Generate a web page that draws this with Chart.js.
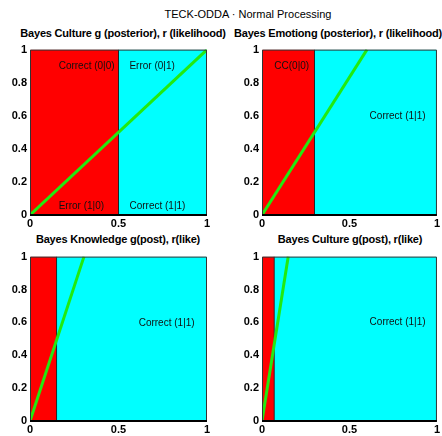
<!DOCTYPE html>
<html><head><meta charset="utf-8">
<script src="https://cdn.jsdelivr.net/npm/chart.js@4"></script>
<style>
html,body{margin:0;padding:0;background:#fff;width:442px;height:436px;overflow:hidden;font-family:"Liberation Sans",Arial,sans-serif;}
.t{position:absolute;white-space:nowrap;color:#000;transform:translate(-50%,-50%);}
.main{font-size:11px;}
.sub{font-size:11px;font-weight:bold;letter-spacing:-0.2px;}
canvas{position:absolute;}
</style></head><body>
<div class="t main" style="left:248px;top:14px">TECK-ODDA · Normal Processing</div>
<div id="t0" class="t sub" style="left:123px;top:33px"></div>
<div id="t1" class="t sub" style="left:338px;top:33px"></div>
<div id="t2" class="t sub" style="left:118px;top:239px"></div>
<div id="t3" class="t sub" style="left:350px;top:239px"></div>
<canvas id="c0" style="left:0;top:40px"></canvas>
<canvas id="c1" style="left:232px;top:40px"></canvas>
<canvas id="c2" style="left:0;top:247px"></canvas>
<canvas id="c3" style="left:232px;top:247px"></canvas>
<script>
const panelTitles = [
  "Bayes Culture g (posterior), r (likelihood)",
  "Bayes Emotiong (posterior), r (likelihood)",
  "Bayes Knowledge g(post), r(like)",
  "Bayes Culture g(post), r(like)"
];
const redEdge = [0.5, 0.3, 0.15, 0.07];
const lineEndX = [1, 0.6, 0.305, 0.15];
const xTicks = [0, 0.5, 1];
const yTicks = [0, 0.2, 0.4, 0.6, 0.8, 1];
const cellText = [
  ["Correct (0|0)", "Error (0|1)", "Error (1|0)", "Correct (1|1)"],
  ["CC(0|0)", "Correct (1|1)"],
  ["Correct (1|1)"],
  ["Correct (1|1)"]
];
const cellX = [[0.32, 0.69, 0.29, 0.72], [0.17, 0.775], [0.772], [0.775]];
const cellY = [[0.9, 0.9, 0.053, 0.053], [0.9, 0.6], [0.595], [0.6]];

const sizes = [[215,189],[210,189],[215,188],[210,188]];

const textPlugin = {
  id: 'cellText',
  afterDatasetsDraw(chart, args, opts) {
    const i = opts.idx, ctx = chart.ctx, xs = chart.scales.x, ys = chart.scales.y;
    ctx.save();
    ctx.font = '10px "Liberation Sans", Arial, sans-serif';
    ctx.fillStyle = '#111';
    ctx.textAlign = 'center'; ctx.textBaseline = 'middle';
    cellText[i].forEach((s, k) => {
      ctx.fillText(s, xs.getPixelForValue(cellX[i][k]), ys.getPixelForValue(cellY[i][k]));
    });
    const a = chart.chartArea;
    ctx.strokeStyle = '#333'; ctx.lineWidth = 1;
    ctx.beginPath();
    ctx.moveTo(a.left + 0.5, a.bottom); ctx.lineTo(a.left + 0.5, a.top + 0.5);
    ctx.lineTo(a.right - 0.5, a.top + 0.5); ctx.lineTo(a.right - 0.5, a.bottom);
    ctx.stroke();
    ctx.strokeStyle = '#000'; ctx.lineWidth = 2;
    ctx.beginPath(); ctx.moveTo(a.left, a.bottom); ctx.lineTo(a.right, a.bottom); ctx.stroke();
    ctx.restore();
  }
};

for (let i = 0; i < 4; i++) {
  document.getElementById('t' + i).textContent = panelTitles[i];
  const cv = document.getElementById('c' + i);
  cv.width = sizes[i][0]; cv.height = sizes[i][1];
  cv.style.width = sizes[i][0] + 'px'; cv.style.height = sizes[i][1] + 'px';
  const b = redEdge[i];
  new Chart(cv, {
    type: 'scatter',
    data: {
      datasets: [
        { data: [{x:0,y:1},{x:b,y:1}], showLine: true, fill: 'origin', backgroundColor: '#ff0000', borderWidth: 0, pointRadius: 0, order: 4 },
        { data: [{x:b,y:1},{x:1,y:1}], showLine: true, fill: 'origin', backgroundColor: '#00ffff', borderWidth: 0, pointRadius: 0, order: 3 },
        { data: [{x:b,y:0},{x:b,y:1}], showLine: true, borderColor: '#222', borderWidth: 1, pointRadius: 0, order: 2 },
        { data: [{x:0,y:0},{x:lineEndX[i],y:1}], showLine: true, borderColor: '#22ea10', borderWidth: 3, pointRadius: 0, order: 1 }
      ]
    },
    options: {
      animation: false, responsive: false, devicePixelRatio: 1,
      layout: { padding: { top: 5, right: i % 2 ? 3 : 8, left: 0, bottom: 0 } },
      plugins: { legend: { display: false }, tooltip: { enabled: false }, cellText: { idx: i } },
      scales: {
        x: {
          type: 'linear', min: 0, max: 1,
          afterBuildTicks: s => { s.ticks = xTicks.map(v => ({ value: v })); },
          afterFit: s => { s.height = 14; },
          grid: { display: false, drawTicks: false },
          border: { display: false },
          ticks: { color: '#000', padding: 2, maxRotation: 0, font: { family: '"Liberation Sans", Arial', size: 11, weight: 'bold' },
                   callback: v => String(+(+v).toFixed(1)) }
        },
        y: {
          type: 'linear', min: 0, max: 1,
          afterBuildTicks: s => { s.ticks = yTicks.map(v => ({ value: v })); },
          afterFit: s => { s.width = 30; },
          grid: { display: false, drawTicks: false },
          border: { display: false },
          ticks: { color: '#000', padding: 3, font: { family: '"Liberation Sans", Arial', size: 11, weight: 'bold' },
                   callback: v => String(+(+v).toFixed(1)) }
        }
      }
    },
    plugins: [textPlugin]
  });
}
</script>
</body></html>
